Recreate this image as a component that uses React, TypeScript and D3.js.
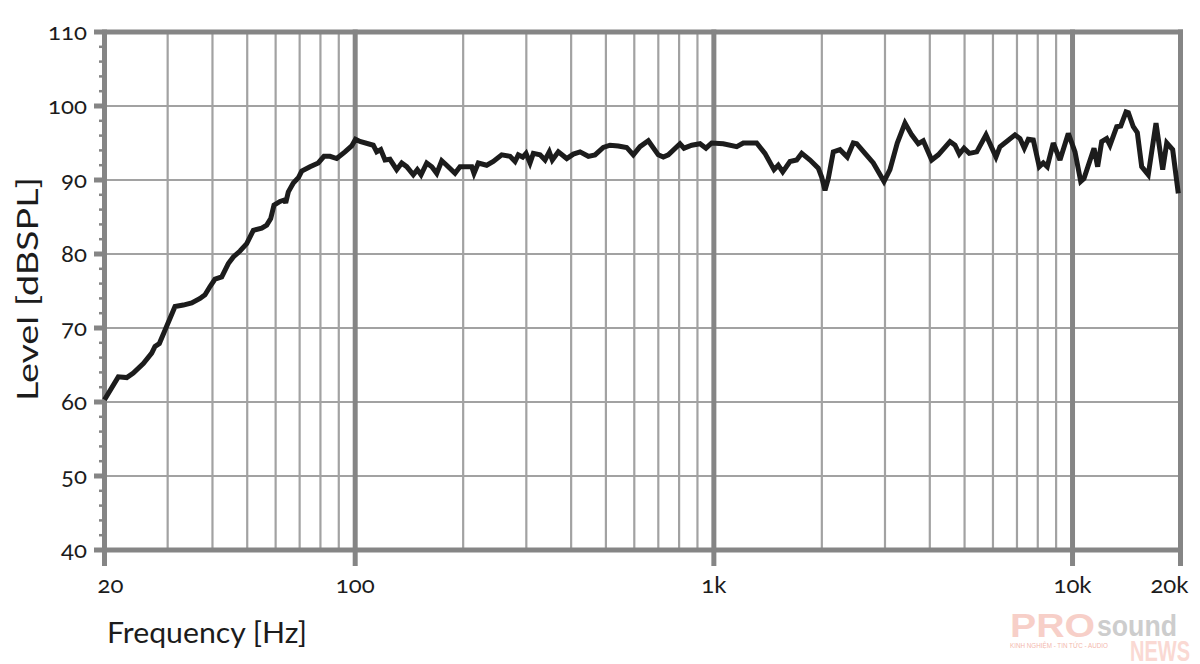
import React from "react";
import * as d3 from "d3";

// Frequency response (Hz, dBSPL)
const freqs: number[] = [
  20, 21.85, 23.07, 24.06, 25.66, 27.08, 27.66, 28.44, 29.49, 31.45,
  33.17, 35.01, 36.93, 38.13, 39.37, 40.66, 42.45, 44.29, 45.73, 47.74,
  49.84, 51.99, 54.87, 56.66, 58.14, 59.38, 61.71, 63.44, 64.01, 65.1,
  67.22, 69.41, 70.94, 74.82, 78.9, 81.85, 85.06, 88.81, 93.65, 97.77,
  100.2, 103.1, 112.3, 114.8, 117.8, 121.1, 125.0, 130.5, 134.8, 139.2,
  145.2, 149.0, 152.6, 158.3, 163.5, 168.8, 174.3, 179.9, 189.8, 196.0,
  204.6, 211.3, 214.4, 220.4, 232.6, 242.7, 256.1, 270.2, 279.0, 284.9,
  293.1, 299.4, 307.2, 313.8, 327.6, 338.3, 347.7, 354.5, 368.4, 388.9,
  405.8, 423.5, 446.7, 466.3, 491.8, 513.4, 541.5, 571.4, 596.2, 622.3,
  656.5, 699.8, 722.8, 746.3, 804.6, 825.6, 867.7, 915.1, 950.6, 986.1,
  1062, 1158, 1208, 1316, 1388, 1471, 1512, 1556, 1630, 1702,
  1758, 1854, 1955, 1998, 2041, 2085, 2153, 2247, 2355, 2448,
  2502, 2639, 2783, 2981, 3097, 3246, 3411, 3561, 3715, 3836,
  4049, 4224, 4553, 4702, 4834, 4982, 5154, 5406, 5738, 6117,
  6276, 6552, 6912, 7137, 7337, 7528, 7773, 8077, 8288, 8503,
  8837, 9226, 9732, 10160, 10540, 10760, 11480, 11750, 12060, 12450,
  12720, 13280, 13630, 14100, 14310, 14770, 15160, 15590, 16260, 17090,
  17840, 18310, 19020, 19720,
];

const levels: number[] = [
  60.3, 63.4, 63.3, 63.9, 65.2, 66.6, 67.5, 67.9, 69.7, 72.9,
  73.1, 73.4, 74.0, 74.5, 75.6, 76.6, 76.9, 78.7, 79.6, 80.4,
  81.4, 83.2, 83.5, 83.9, 84.8, 86.6, 87.1, 87.3, 86.9, 88.4,
  89.6, 90.3, 91.2, 91.8, 92.3, 93.2, 93.2, 92.9, 93.8, 94.6,
  95.5, 95.2, 94.7, 93.8, 94.1, 92.7, 92.8, 91.4, 92.3, 91.8,
  90.7, 91.4, 90.7, 92.3, 91.8, 90.9, 92.6, 92.0, 90.9, 91.8,
  91.8, 91.8, 90.9, 92.3, 92.0, 92.5, 93.4, 93.2, 92.5, 93.4,
  93.1, 93.6, 92.3, 93.6, 93.4, 92.7, 93.8, 92.7, 93.8, 92.9,
  93.5, 93.8, 93.2, 93.4, 94.4, 94.7, 94.6, 94.4, 93.4, 94.5,
  95.3, 93.4, 93.1, 93.4, 94.9, 94.3, 94.7, 94.9, 94.3, 95.0,
  94.9, 94.5, 95.0, 95.0, 93.6, 91.4, 92.0, 91.1, 92.5, 92.7,
  93.6, 92.7, 91.6, 90.4, 88.6, 90.2, 93.8, 94.1, 93.1, 95.0,
  94.9, 93.6, 92.3, 89.8, 91.4, 95.0, 97.7, 96.1, 94.9, 95.3,
  92.7, 93.4, 95.2, 94.7, 93.5, 94.3, 93.6, 93.8, 96.1, 93.1,
  94.5, 95.2, 96.1, 95.6, 94.3, 95.5, 95.4, 91.8, 92.3, 91.8,
  95.0, 92.7, 96.3, 93.8, 89.8, 90.2, 94.3, 91.8, 95.2, 95.6,
  94.7, 97.2, 97.3, 99.2, 99.1, 97.2, 96.4, 91.8, 90.7, 97.7,
  91.4, 95.0, 94.1, 88.2,
];

const yTicks: number[] = [40, 50, 60, 70, 80, 90, 100, 110];
const yMinorTicks: number[] = [42, 44, 46, 48, 52, 54, 56, 58, 62, 64, 66, 68, 72, 74, 76, 78, 82, 84, 86, 88, 92, 94, 96, 98, 102, 104, 106, 108];
const xMajor: number[] = [20, 100, 1000, 10000, 20000];
const xMajorLabels: string[] = ["20", "100", "1k", "10k", "20k"];
const xMinor: number[] = [30, 40, 50, 60, 70, 80, 90, 200, 300, 400, 500, 600, 700, 800, 900, 2000, 3000, 4000, 5000, 6000, 7000, 8000, 9000];

const FONT = "Lato, 'Open Sans', 'DejaVu Sans', sans-serif";
const WM = "'Liberation Sans', Arial, sans-serif";
const FRAME = "#858585";
const GRID = "#a2a2a2";
const INK = "#1c1c1c";

export default function App() {
  const x = d3.scaleLog().domain([20, 20000]).range([104.5, 1180.5]);
  const y = d3.scaleLinear().domain([40, 110]).range([550, 32]);
  const pts: [number, number][] = freqs.map((f, i) => [f, levels[i]]);
  const line = d3
    .line<[number, number]>()
    .x((d) => x(d[0]))
    .y((d) => y(d[1]));

  const x0 = x(20);
  const x1 = x(20000);

  const labelAnchor = (i: number) =>
    i === 0 ? "start" : i === xMajor.length - 1 ? "end" : "middle";
  const labelX = (i: number) =>
    i === 0 ? x(xMajor[i]) - 7 : i === xMajor.length - 1 ? x(xMajor[i]) + 8 : x(xMajor[i]);

  return (
    <svg
      width={1200}
      height={664}
      viewBox="0 0 1200 664"
      style={{ position: "absolute", left: 0, top: 0, background: "#fff" }}
    >
      <rect x={0} y={0} width={1200} height={664} fill="#fff" />
      {/* horizontal grid */}
      {yTicks
        .filter((t) => t > 40 && t < 110)
        .map((t) => (
          <line key={"hg" + t} x1={x0} x2={x1} y1={y(t)} y2={y(t)} stroke={GRID} strokeWidth={2.2} />
        ))}
      {/* vertical minor grid */}
      {xMinor.map((f) => (
        <line key={"vg" + f} x1={x(f)} x2={x(f)} y1={y(110)} y2={y(40)} stroke={GRID} strokeWidth={2.2} />
      ))}
      {/* y minor ticks */}
      {yMinorTicks.map((t) => (
        <line key={"ym" + t} x1={99} x2={x0} y1={y(t)} y2={y(t)} stroke={FRAME} strokeWidth={2.5} />
      ))}
      {/* y major ticks + top/bottom frame */}
      {yTicks.map((t) => (
        <line
          key={"yM" + t}
          x1={94}
          x2={t === 40 || t === 110 ? x1 + 2.5 : x0}
          y1={y(t)}
          y2={y(t)}
          stroke={FRAME}
          strokeWidth={5}
        />
      ))}
      {/* x major lines with ticks */}
      {xMajor.map((f) => (
        <line key={"xM" + f} x1={x(f)} x2={x(f)} y1={y(110) - 2.5} y2={566} stroke={FRAME} strokeWidth={5} />
      ))}
      {/* curve */}
      <path
        d={line(pts) || ""}
        fill="none"
        stroke={INK}
        strokeWidth={5}
        strokeLinejoin="miter"
        strokeMiterlimit={3}
      />
      {/* y labels */}
      {yTicks.map((t) => (
        <text
          key={"yl" + t}
          x={87}
          y={y(t) + 8}
          textAnchor="end"
          fontFamily={FONT}
          fontSize={24}
          fill={INK}
          style={{ fontVariantNumeric: "oldstyle-nums" }}
        >
          {t}
        </text>
      ))}
      {/* x labels */}
      {xMajor.map((f, i) => (
        <text
          key={"xl" + f}
          x={labelX(i)}
          y={593}
          textAnchor={labelAnchor(i)}
          fontFamily={FONT}
          fontSize={24}
          fill={INK}
          style={{ fontVariantNumeric: "oldstyle-nums" }}
        >
          {xMajorLabels[i]}
        </text>
      ))}
      {/* axis titles */}
      <text
        x={107}
        y={643}
        fontFamily={FONT}
        fontSize={28}
        fill={INK}
        textLength={200}
        lengthAdjust="spacingAndGlyphs"
      >
        Frequency [Hz]
      </text>
      <text
        transform="translate(38,289) rotate(-90)"
        textAnchor="middle"
        fontFamily={FONT}
        fontSize={28}
        fill={INK}
        textLength={224}
        lengthAdjust="spacingAndGlyphs"
      >
        Level [dBSPL]
      </text>
      {/* watermark */}
      <g>
        <text x={1010} y={637} fontFamily={WM} fontWeight="bold" fontSize={34} fill="#f7cfc8" textLength={85} lengthAdjust="spacingAndGlyphs">
          PRO
        </text>
        <text x={1097} y={636} fontFamily={WM} fontWeight="bold" fontSize={30} fill="#cdcdcd" textLength={80} lengthAdjust="spacingAndGlyphs">
          sound
        </text>
        <text x={1010} y={648} fontFamily={WM} fontSize={6.5} fill="#f3b8ae" textLength={98} lengthAdjust="spacingAndGlyphs">
          KINH NGHIỆM - TIN TỨC - AUDIO
        </text>
        <text x={1130} y={661} fontFamily={WM} fontWeight="bold" fontSize={30} fill="#fad9d3" textLength={60} lengthAdjust="spacingAndGlyphs">
          NEWS
        </text>
      </g>
    </svg>
  );
}
